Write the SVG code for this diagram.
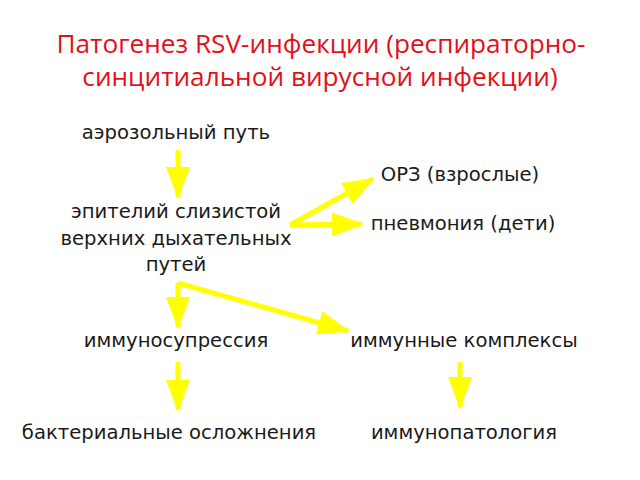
<svg xmlns="http://www.w3.org/2000/svg" width="640" height="480" viewBox="0 0 640 480">
<style>
.t{font-family:"Open Sans","Liberation Sans",sans-serif;font-size:26.2px;fill:#e3101a;text-anchor:middle}
.n{font-family:"DejaVu Sans",Verdana,sans-serif;font-size:19.6px;fill:#1a1a1a;text-anchor:middle}
.c{fill:none;stroke:#ffff00;stroke-width:5;stroke-linejoin:round;stroke-linecap:butt}
</style>
<defs>
<marker id="ah" viewBox="0 0 32 24" refX="30" refY="12" markerWidth="32" markerHeight="24" markerUnits="userSpaceOnUse" orient="auto">
<path d="M0,0 L32,12 L0,24 z" fill="#ffff00"/>
</marker>
</defs>
<rect width="640" height="480" fill="#ffffff"/>
<g id="title">
<text class="t" x="321" y="53">Патогенез RSV-инфекции (респираторно-</text>
<text class="t" x="320" y="86">синцитиальной вирусной инфекции)</text>
</g>
<g id="connectors">
<path class="c" d="M178,150 L178,197" marker-end="url(#ah)"/>
<path class="c" d="M290,225 L373,179" marker-end="url(#ah)"/>
<path class="c" d="M290,225 L362,224" marker-end="url(#ah)"/>
<path class="c" d="M178,283 L178,327" marker-end="url(#ah)"/>
<path class="c" d="M178,283 L348,331" marker-end="url(#ah)"/>
<path class="c" d="M178,362 L178,410" marker-end="url(#ah)"/>
<path class="c" d="M460,362 L460,407" marker-end="url(#ah)"/>
</g>
<g id="n1"><text class="n" x="176" y="139">аэрозольный путь</text></g>
<g id="n2"><text class="n" x="176" y="218">эпителий слизистой</text><text class="n" x="176" y="245">верхних дыхательных</text><text class="n" x="176" y="271">путей</text></g>
<g id="n3"><text class="n" x="460" y="181">ОРЗ (взрослые)</text></g>
<g id="n4"><text class="n" x="463" y="230">пневмония (дети)</text></g>
<g id="n5"><text class="n" x="176" y="347">иммуносупрессия</text></g>
<g id="n6"><text class="n" x="464" y="347">иммунные комплексы</text></g>
<g id="n7"><text class="n" x="169" y="439">бактериальные осложнения</text></g>
<g id="n8"><text class="n" x="464" y="439">иммунопатология</text></g>
</svg>
